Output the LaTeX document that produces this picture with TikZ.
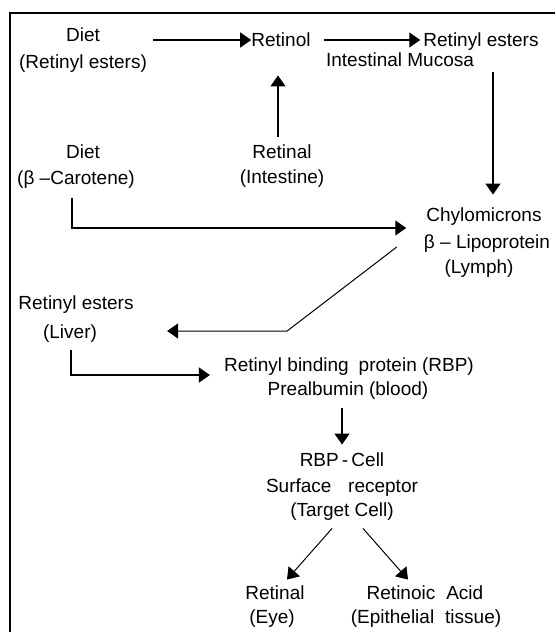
\documentclass[tikz,border=0pt]{standalone}
\usepackage{fontspec}
\setmainfont{Liberation Sans}
\usetikzlibrary{arrows.meta,calc}
\begin{document}
\begin{tikzpicture}[x=1pt,y=-1pt,
  txt/.style={inner sep=0pt, text height=14pt, text depth=4.5pt, font=\fontsize{19}{23}\selectfont},
  arr/.style={line width=1.3pt, -{Triangle[width=15pt,length=11pt]}},
  thinarr/.style={line width=1pt, -{Triangle[width=15pt,length=11pt]}},
  frame/.style={line width=2pt}]
\useasboundingbox (0,0) rectangle (555,632);
\draw[frame] (555,12.5) -- (10,12.5) -- (10,632);

\node[txt] (dietA) at (83,37) {Diet};
\node[txt] (dietAs) at (83,64) {(Retinyl esters)};
\node[txt] (retinol) at (281,42) {Retinol};
\node[txt] (resters) at (481,42) {Retinyl esters};
\node[txt] (mucosa) at (400,62) {Intestinal Mucosa};
\node[txt] (retinalI) at (282,154) {Retinal};
\node[txt] (intestine) at (282,179) {(Intestine)};
\node[txt] (dietB) at (83,154) {Diet};
\node[txt] (carotene) at (76,180) {(β –Carotene)};
\node[txt] (chylo) at (484,217) {Chylomicrons};
\node[txt] (lipo) at (487,244) {β – Lipoprotein};
\node[txt] (lymph) at (479,269) {(Lymph)};
\node[txt] (restersL) at (76,305) {Retinyl esters};
\node[txt] (liver) at (70,334) {(Liver)};
\node[txt] (rbp) at (349,367) {Retinyl binding\hspace{0.25em} protein (RBP)};
\node[txt] (prealb) at (348,391) {Prealbumin (blood)};
\node[txt] (rbpcell) at (342,462) {RBP\,-\,Cell};
\node[txt] (surface) at (342,488) {Surface\hspace{0.6em} receptor};
\node[txt] (target) at (342,512) {(Target Cell)};
\node[txt] (retinalE) at (275,595) {Retinal};
\node[txt] (eye) at (272,619) {(Eye)};
\node[txt] (retacid) at (425,595) {Retinoic\hspace{0.3em} Acid};
\node[txt] (epith) at (426,619) {(Epithelial\hspace{0.3em} tissue)};

\draw[arr] ($(dietAs.east |- retinol.west)+(6,-2)$) -- ($(retinol.west)+(0,-2)$);
\draw[arr] ($(retinol.east)+(13,-2)$) -- ($(resters.west)+(-3,-2)$);
\draw[arr] ($(retinalI.north)+(-4,-8)$) -- ($(retinalI.north |- retinol.south)+(-4,24)$);
\draw[arr] ($(resters.south)+(12,21)$) -- ($(resters.south |- chylo.north)+(12,-13)$);
\draw[arr] ($(carotene.south)+(-4,9)$) |- ($(chylo.west)+(-20,11)$);
\draw[thinarr] ($(lipo.west)+(-27,3)$) -- ($(liver.east)+(190,-3)$) -- ($(liver.east)+(70,-3)$);
\draw[arr] ($(liver.south)+(1,7)$) |- ($(rbp.west)+(-14,8)$);
\draw[arr] ($(prealb.south)+(-6,8)$) -- ($(prealb.south |- rbpcell.north)+(-6,-8)$);
\draw[thinarr] ($(target.south)+(-10,7)$) -- ($(retinalE.north)+(12,-6)$);
\draw[thinarr] ($(target.south)+(21,7)$) -- ($(retacid.north)+(-17,-6)$);
\end{tikzpicture}
\end{document}
